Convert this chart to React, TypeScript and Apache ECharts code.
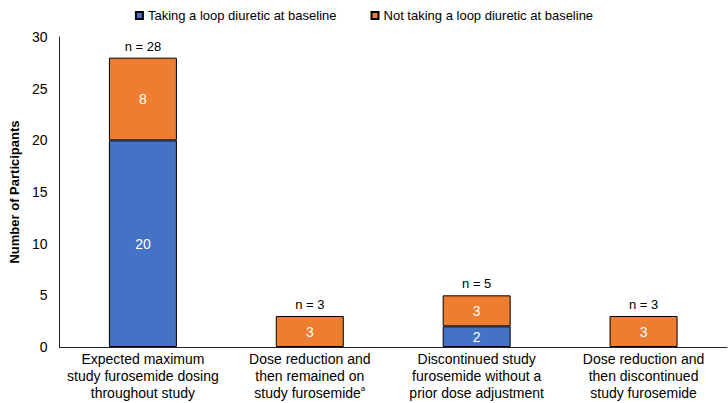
import React, { useEffect, useRef } from "react";
import * as echarts from "echarts";

const categories = [
  "Expected maximum\nstudy furosemide dosing\nthroughout study",
  "Dose reduction and\nthen remained on\nstudy furosemide{sup|a}",
  "Discontinued study\nfurosemide without a\nprior dose adjustment",
  "Dose reduction and\nthen discontinued\nstudy furosemide",
];
const takingLoop = [20, 0, 2, 0];
const notTakingLoop = [8, 3, 3, 3];
const totals = [28, 3, 5, 3];
const yTicks = { min: 0, max: 30, interval: 5 };

const FONT = "Liberation Sans, Arial, sans-serif";

export default function App() {
  const ref = useRef<HTMLDivElement>(null);
  useEffect(() => {
    if (!ref.current) return;
    document.body.style.margin = "0";
    const chart = echarts.init(ref.current, undefined, { renderer: "svg" });
    const nz = (arr: number[]) => arr.map((v) => (v === 0 ? "-" : v));
    chart.setOption({
      animation: false,
      textStyle: { fontFamily: FONT },
      legend: {
        top: 4,
        left: "center",
        itemWidth: 7,
        itemHeight: 7,
        itemGap: 34,
        icon: "rect",
        textStyle: { fontSize: 13, color: "#000", fontFamily: FONT },
        data: [
          "Taking a loop diuretic at baseline",
          "Not taking a loop diuretic at baseline",
        ],
      },
      grid: { left: 52, right: 1, top: 37, bottom: 56, containLabel: false },
      xAxis: {
        type: "category",
        data: categories,
        axisLine: { lineStyle: { color: "#222", width: 1 } },
        axisTick: { show: false },
        axisLabel: {
          interval: 0,
          fontSize: 14,
          lineHeight: 17,
          color: "#000",
          margin: 3,
          fontFamily: FONT,
          rich: {
            sup: { fontSize: 8, verticalAlign: "top", lineHeight: 17, padding: [0, 0, 6, 0], color: "#000", fontFamily: FONT },
          },
        },
      },
      yAxis: {
        type: "value",
        min: yTicks.min,
        max: yTicks.max,
        interval: yTicks.interval,
        name: "Number of Participants",
        nameLocation: "middle",
        nameGap: 38,
        nameTextStyle: { fontSize: 13, fontWeight: "bold", color: "#000", fontFamily: FONT },
        axisLine: { show: true, lineStyle: { color: "#222", width: 1 } },
        axisTick: { show: false },
        splitLine: { show: false },
        axisLabel: { fontSize: 14, color: "#000", margin: 12, fontFamily: FONT },
      },
      series: [
        {
          name: "Taking a loop diuretic at baseline",
          type: "bar",
          stack: "total",
          barWidth: 68,
          data: nz(takingLoop),
          itemStyle: { color: "#4472C4", borderColor: "#000", borderWidth: 1 },
          label: { show: true, position: "inside", color: "#fff", fontSize: 14, fontFamily: FONT },
        },
        {
          name: "Not taking a loop diuretic at baseline",
          type: "bar",
          stack: "total",
          barWidth: 68,
          data: nz(notTakingLoop),
          itemStyle: { color: "#ED7D31", borderColor: "#000", borderWidth: 1 },
          label: { show: true, position: "inside", color: "#fff", fontSize: 14, fontFamily: FONT },
        },
        {
          name: "totals",
          type: "bar",
          stack: "total",
          barWidth: 68,
          data: totals.map(() => 0),
          itemStyle: { color: "transparent", borderWidth: 0 },
          label: {
            show: true,
            position: "top",
            distance: 5,
            color: "#000",
            fontSize: 13,
            fontFamily: FONT,
            formatter: (p: any) => "n = " + totals[p.dataIndex],
          },
          silent: true,
        },
      ],
    });
    return () => chart.dispose();
  }, []);
  return <div ref={ref} style={{ width: 728, height: 403 }} />;
}
